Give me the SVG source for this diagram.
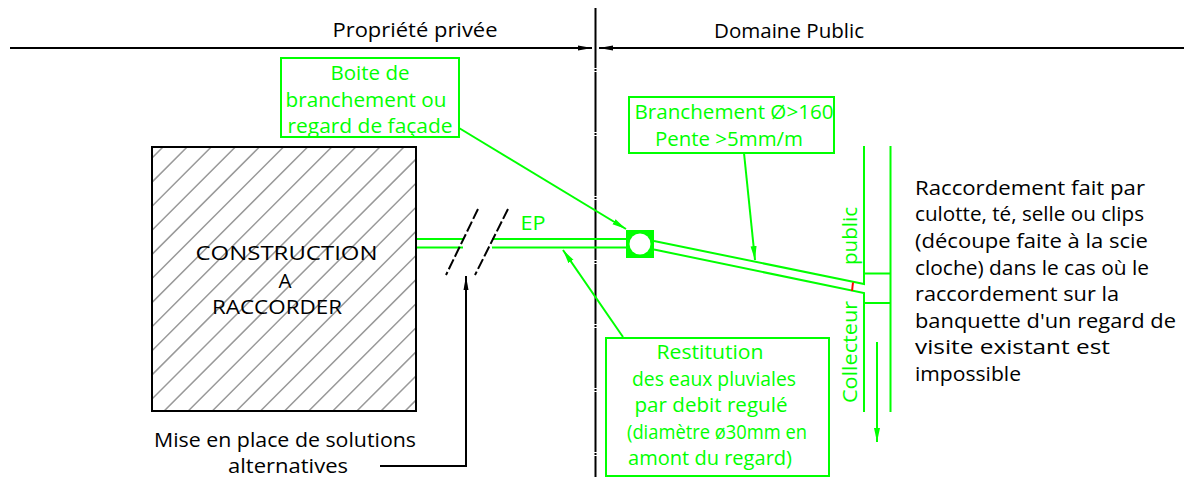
<svg xmlns="http://www.w3.org/2000/svg" width="1184" height="477" viewBox="0 0 1184 477">
<style>
text{font-family:"Open Sans","DejaVu Sans",sans-serif;font-size:20px;text-anchor:middle}
.k{fill:#000}.g{fill:#0f0}.l{text-anchor:start}
.gl{fill:none;stroke:#0f0;stroke-width:2}
.bl{fill:none;stroke:#000;stroke-width:2}
.box{fill:#fff;stroke:#0f0;stroke-width:2}
</style>
<defs>
<marker id="ab" markerUnits="userSpaceOnUse" markerWidth="14" markerHeight="8" refX="14" refY="4" orient="auto"><path d="M0 1.5L14 4L0 6.5z" fill="#000"/></marker>
<marker id="ag" markerUnits="userSpaceOnUse" markerWidth="14" markerHeight="8" refX="14" refY="4" orient="auto"><path d="M0 1L14 4L0 7z" fill="#0f0"/></marker>
<clipPath id="c"><rect x="152" y="147" width="264" height="264"/></clipPath>
</defs>
<g id="connectors">
<path class="bl" d="M10 48H592" marker-end="url(#ab)"/>
<path class="bl" d="M1184 48H599" marker-end="url(#ab)"/>
<path class="bl" d="M595.500 8V477" stroke-dasharray="60 1 2 1"/>
<path class="gl" d="M417 239H463M492 239H626M417 247.500H463M492 247.500H626"/>
<path class="bl" stroke-dasharray="11 3" d="M478 209L446 275M508 209L475 275"/>
<path class="gl" d="M654 241L864 284V146M654 249.500L864 293V412M890.500 146V412M864 273.500H890.500M864 303H890.500"/>
<path d="M853 282.500L852 291" fill="none" stroke="#f00" stroke-width="2"/>
<path class="gl" d="M877 342V442" marker-end="url(#ag)"/>
<path class="gl" d="M459 128L626 229" marker-end="url(#ag)"/>
<path class="gl" d="M744 153L755 260" marker-end="url(#ag)"/>
<path class="gl" d="M623 337L563 250" marker-end="url(#ag)"/>
<path class="bl" d="M380 466H466V276" marker-end="url(#ab)"/>
</g>
<g id="construction">
<rect x="152" y="147" width="264" height="264" fill="#fff"/>
<path clip-path="url(#c)" fill="none" stroke="#999" stroke-width="1.500" d="M152 158l264-264M152 182.100l264-264M152 206.200l264-264M152 230.300l264-264M152 254.400l264-264M152 278.500l264-264M152 302.600l264-264M152 326.700l264-264M152 350.800l264-264M152 374.900l264-264M152 399l264-264M152 423.100l264-264M152 447.200l264-264M152 471.300l264-264M152 495.400l264-264M152 519.500l264-264M152 543.600l264-264M152 567.700l264-264M152 591.800l264-264M152 615.900l264-264M152 640l264-264M152 664.100l264-264"/>
<rect x="152" y="147" width="264" height="264" fill="none" stroke="#000" stroke-width="2"/>
<text class="k" x="286.500" y="260" textLength="182" lengthAdjust="spacingAndGlyphs">CONSTRUCTION</text>
<text class="k" x="285" y="288" textLength="13" lengthAdjust="spacingAndGlyphs">A</text>
<text class="k" x="277" y="314" textLength="130" lengthAdjust="spacingAndGlyphs">RACCORDER</text>
</g>
<g id="header-prive"><text class="k" x="415" y="37" textLength="165" lengthAdjust="spacingAndGlyphs">Propriété privée</text></g>
<g id="header-public"><text class="k" x="789" y="38" textLength="150" lengthAdjust="spacingAndGlyphs">Domaine Public</text></g>
<g id="boite">
<rect class="box" x="281" y="58" width="178" height="79"/>
<text class="g" x="370" y="80" textLength="79" lengthAdjust="spacingAndGlyphs">Boite de</text>
<text class="g" x="366" y="107" textLength="161" lengthAdjust="spacingAndGlyphs">branchement ou</text>
<text class="g" x="370" y="133" textLength="165" lengthAdjust="spacingAndGlyphs">regard de façade</text>
</g>
<g id="branchement">
<rect class="box" x="629" y="97" width="205" height="56"/>
<text class="g" x="734" y="119" textLength="199" lengthAdjust="spacingAndGlyphs">Branchement Ø&gt;160</text>
<text class="g" x="729" y="146" textLength="148" lengthAdjust="spacingAndGlyphs">Pente &gt;5mm/m</text>
</g>
<g id="regard">
<rect x="628" y="232" width="24" height="24" fill="#0f0" stroke="#0f0" stroke-width="4"/>
<circle cx="640" cy="244" r="10.500" fill="#fff"/>
</g>
<g id="ep"><text class="g" x="533" y="230" textLength="25" lengthAdjust="spacingAndGlyphs">EP</text></g>
<g id="collecteur">
<text class="g" transform="translate(857 236) rotate(-90)" textLength="58" lengthAdjust="spacingAndGlyphs">public</text>
<text class="g" transform="translate(857 352) rotate(-90)" textLength="102" lengthAdjust="spacingAndGlyphs">Collecteur</text>
</g>
<g id="restitution">
<rect class="box" x="606" y="338" width="223" height="138"/>
<text class="g" x="710" y="359" textLength="107" lengthAdjust="spacingAndGlyphs">Restitution</text>
<text class="g" x="714" y="386" textLength="164" lengthAdjust="spacingAndGlyphs">des eaux pluviales</text>
<text class="g" x="711" y="412" textLength="153" lengthAdjust="spacingAndGlyphs">par debit regulé</text>
<text class="g" x="717" y="439" textLength="180" lengthAdjust="spacingAndGlyphs">(diamètre ø30mm en</text>
<text class="g" x="710" y="465" textLength="164" lengthAdjust="spacingAndGlyphs">amont du regard)</text>
</g>
<g id="solutions">
<text class="k" x="285" y="447" textLength="262" lengthAdjust="spacingAndGlyphs">Mise en place de solutions</text>
<text class="k" x="288" y="473" textLength="120" lengthAdjust="spacingAndGlyphs">alternatives</text>
</g>
<g id="raccordement">
<text class="k l" x="915" y="195" textLength="230" lengthAdjust="spacingAndGlyphs">Raccordement fait par</text>
<text class="k l" x="915" y="221" textLength="229" lengthAdjust="spacingAndGlyphs">culotte, té, selle ou clips</text>
<text class="k l" x="915" y="248" textLength="233" lengthAdjust="spacingAndGlyphs">(découpe faite à la scie</text>
<text class="k l" x="915" y="275" textLength="234" lengthAdjust="spacingAndGlyphs">cloche) dans le cas où le</text>
<text class="k l" x="915" y="301" textLength="204" lengthAdjust="spacingAndGlyphs">raccordement sur la</text>
<text class="k l" x="915" y="328" textLength="261" lengthAdjust="spacingAndGlyphs">banquette d'un regard de</text>
<text class="k l" x="915" y="354" textLength="195" lengthAdjust="spacingAndGlyphs">visite existant est</text>
<text class="k l" x="915" y="381" textLength="106" lengthAdjust="spacingAndGlyphs">impossible</text>
</g>
</svg>
